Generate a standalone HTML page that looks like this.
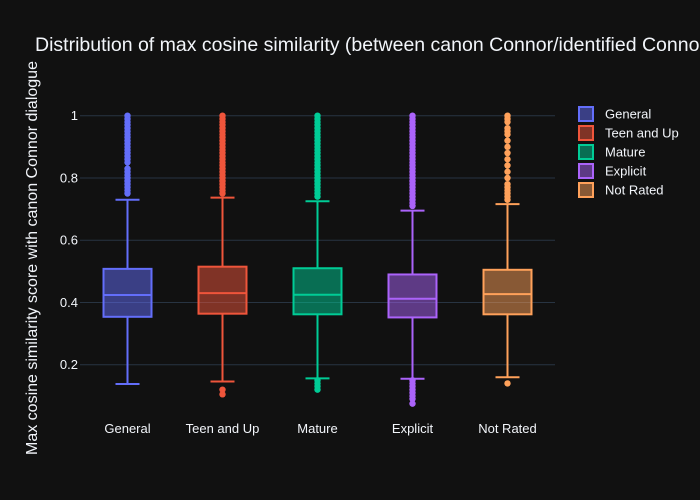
<!DOCTYPE html>
<html><head><meta charset="utf-8"><style>
body{margin:0;background:#111111;}
svg{display:block;font-family:"Liberation Sans",Arial,sans-serif;}
</style></head><body>
<svg id="chart" width="700" height="500">
<rect width="700" height="500" fill="#111111"/>
<text x="35" y="51" fill="#f2f5fa" font-size="19.5">Distribution of max cosine similarity (between canon Connor/identified Connor dialogue)</text>
<text transform="translate(37,258) rotate(-90)" text-anchor="middle" fill="#f2f5fa" font-size="16">Max cosine similarity score with canon Connor dialogue</text>
<g id="grid"></g><g id="boxes"></g><g id="xlabels"></g><g id="legend"></g>
</svg>
<script>
const categories=["General","Teen and Up","Mature","Explicit","Not Rated"];
const colors=["#636efa","#EF553B","#00cc96","#ab63fa","#FFA15A"];
const lowerWhisker=[0.138,0.146,0.156,0.155,0.16];
const q1=[0.354,0.364,0.362,0.352,0.362];
const median=[0.424,0.430,0.425,0.412,0.427];
const q3=[0.508,0.515,0.510,0.490,0.505];
const upperWhisker=[0.73,0.737,0.725,0.695,0.716];
const outliers=[
 [0.75,0.76,0.77,0.78,0.79,0.8,0.81,0.82,0.83,0.85,0.86,0.87,0.88,0.89,0.9,0.91,0.92,0.93,0.94,0.95,0.96,0.97,0.98,0.99,1.0],
 [0.105,0.12,0.75,0.76,0.77,0.78,0.79,0.8,0.81,0.82,0.83,0.84,0.85,0.86,0.87,0.88,0.89,0.9,0.91,0.92,0.93,0.94,0.95,0.96,0.97,0.98,0.99,1.0],
 [0.12,0.13,0.14,0.15,0.74,0.75,0.76,0.77,0.78,0.79,0.8,0.81,0.82,0.83,0.84,0.85,0.86,0.87,0.88,0.89,0.9,0.91,0.92,0.93,0.94,0.95,0.96,0.97,0.98,0.99,1.0],
 [0.075,0.09,0.1,0.11,0.12,0.13,0.14,0.15,0.71,0.72,0.73,0.74,0.75,0.76,0.77,0.78,0.79,0.8,0.81,0.82,0.83,0.84,0.85,0.86,0.87,0.88,0.89,0.9,0.91,0.92,0.93,0.94,0.95,0.96,0.97,0.98,0.99,1.0],
 [0.14,0.73,0.74,0.75,0.76,0.77,0.78,0.8,0.82,0.84,0.86,0.88,0.9,0.92,0.94,0.95,0.96,0.98,0.99,1.0]
];
const yTicks=[0.2,0.4,0.6,0.8,1];
const tickLabels=["0.2","0.4","0.6","0.8","1"];
const NS="http://www.w3.org/2000/svg";
const plotL=80,plotR=555,bandW=95;
function y(v){return 427-311.3*v;}
function x(i){return plotL+bandW*(i+0.5);}
function mk(tag,attrs,parent){const e=document.createElementNS(NS,tag);for(const k in attrs)e.setAttribute(k,attrs[k]);parent.appendChild(e);return e;}
const grid=document.getElementById('grid');
yTicks.forEach((t,i)=>{
 const l=mk('line',{x1:plotL,x2:plotR,y1:y(t),y2:y(t),stroke:'#283442','stroke-width':1},grid);
 
 
 const tx=mk('text',{x:78,y:y(t)+4.5,'text-anchor':'end',fill:'#f2f5fa','font-size':13},grid);
 tx.textContent=tickLabels[i];
 
 
});
const boxes=document.getElementById('boxes');
categories.forEach((c,i)=>{
 const cx=x(i),col=colors[i],bw=48,cw=24;
 const g=mk('g',{},boxes);
 
 
 mk('line',{x1:cx,x2:cx,y1:y(upperWhisker[i]),y2:y(q3[i]),stroke:col,'stroke-width':2},g);
 mk('line',{x1:cx,x2:cx,y1:y(q1[i]),y2:y(lowerWhisker[i]),stroke:col,'stroke-width':2},g);
 mk('line',{x1:cx-cw/2,x2:cx+cw/2,y1:y(upperWhisker[i]),y2:y(upperWhisker[i]),stroke:col,'stroke-width':2},g);
 mk('line',{x1:cx-cw/2,x2:cx+cw/2,y1:y(lowerWhisker[i]),y2:y(lowerWhisker[i]),stroke:col,'stroke-width':2},g);
 mk('rect',{x:cx-bw/2,y:y(q3[i]),width:bw,height:y(q1[i])-y(q3[i]),fill:col,'fill-opacity':0.5,stroke:col,'stroke-width':2},g);
 mk('line',{x1:cx-bw/2,x2:cx+bw/2,y1:y(median[i]),y2:y(median[i]),stroke:col,'stroke-width':2},g);
 outliers[i].forEach(v=>{
  const p=mk('circle',{cx:cx,cy:y(v),r:3.2,fill:col},g);
  
  
 });
 const t=mk('text',{x:cx,y:433,'text-anchor':'middle',fill:'#f2f5fa','font-size':13},document.getElementById('xlabels'));
 t.textContent=c;
 
 
});
const legend=document.getElementById('legend');
categories.forEach((c,i)=>{
 const ly=114+19*i;
 const g=mk('g',{},legend);
 
 
 mk('rect',{x:579,y:ly-7,width:14,height:14,fill:colors[i],'fill-opacity':0.5,stroke:colors[i],'stroke-width':2},g);
 const t=mk('text',{x:605,y:ly+4.5,fill:'#f2f5fa','font-size':13},g);
 t.textContent=c;
});
</script>
</body></html>
